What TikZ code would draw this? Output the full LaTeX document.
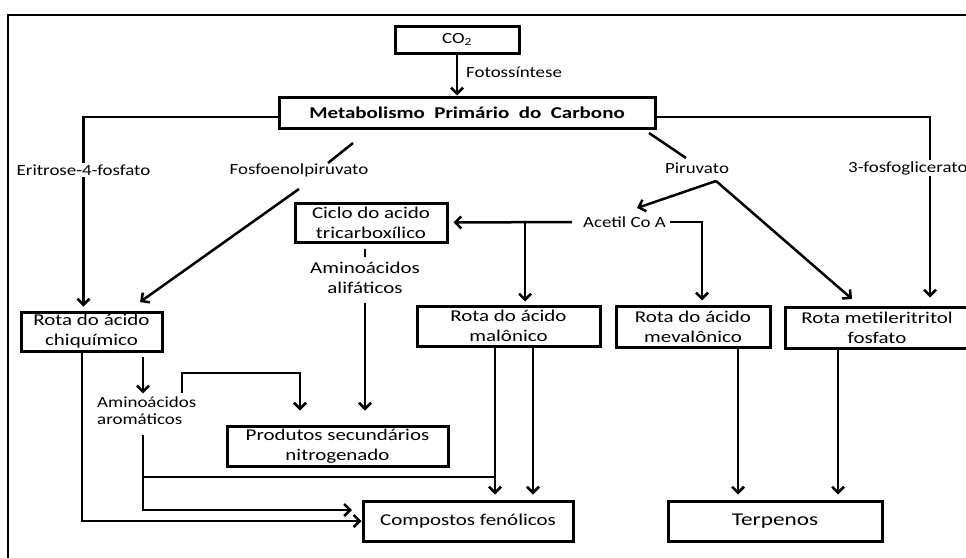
\documentclass[tikz,border=0pt]{standalone}
\usepackage{fontspec}
\setmainfont{Carlito}
\newfontfamily\smallf{Carlito}[FakeStretch=1.22]
\newfontfamily\bigf{Carlito}[FakeStretch=1.27]
\newfontfamily\terpf{Carlito}[FakeStretch=1.29]
\newcommand\lblfont{\smallf\fontsize{15.5}{17}\selectfont}
\newcommand\boxfont{\bigf\fontsize{16.5}{20}\selectfont}
\newcommand\terpfont{\terpf\fontsize{18}{20}\selectfont}
\usetikzlibrary{arrows.meta}
\begin{document}
\begin{tikzpicture}[x=1pt,y=-1pt,
  box/.style={draw, line width=3pt, inner sep=0pt, align=center, font=\boxfont},
  lab/.style={inner sep=1pt, align=center, font=\lblfont},
  con/.style={line width=2.5pt},
  arr/.style={line width=2.5pt, -{Straight Barb[length=6pt,width=12pt]}},
]
\useasboundingbox (0,0) rectangle (966,557);
\clip (0,0) rectangle (966,557);
\fill[white] (0,0) rectangle (966,557);
% frame
\draw[line width=2.8pt] (8,570) -- (8,15) -- (980,15);

% nodes
\node[box, minimum width=124pt, minimum height=27pt, font=\lblfont] (co2) at (457,39.5) {CO\textsubscript{2}};
\node[lab, anchor=west] (fot) at (465,72) {Fotossíntese};
\node[box, minimum width=376pt, minimum height=31pt, font=\bigf\fontsize{16.5}{20}\selectfont\bfseries] (met) at (467,112.5) {Metabolismo\ \ Primário\ \ do\ \ Carbono};
\node[lab] (eri) at (83.5,170) {Eritrose-4-fosfato};
\node[lab] (fos) at (299,170) {Fosfoenolpiruvato};
\node[lab] (pir) at (697,168) {Piruvato};
\node[lab, anchor=west] (tres) at (847,168) {3-fosfoglicerato};
\node[lab] (ace) at (624.5,222) {Acetil Co A};
\node[box, minimum width=152pt, minimum height=39pt] (cic) at (371,222.5) {Ciclo do acido\\tricarboxílico};
\node[lab, font=\boxfont] (ali) at (365,277.5) {Aminoácidos\\alifáticos};
\node[box, minimum width=141pt, minimum height=39pt] (chi) at (91.5,331.5) {Rota do ácido\\chiquímico};
\node[box, minimum width=183pt, minimum height=40pt] (mal) at (508.5,326) {Rota do ácido\\malônico};
\node[box, minimum width=154pt, minimum height=41pt] (mev) at (693,326.5) {Rota do ácido\\mevalônico};
\node[box, minimum width=184pt, minimum height=41pt] (mtl) at (877,327.5) {Rota metileritritol\\fosfato};
\node[lab, align=left, anchor=west] (aro) at (96,410.5) {Aminoácidos\\aromáticos};
\node[box, minimum width=221pt, minimum height=40pt] (pro) at (337.5,446) {Produtos secundários\\nitrogenado};
\node[box, minimum width=210pt, minimum height=40pt] (com) at (468,521) {Compostos fenólicos};
\node[box, minimum width=214pt, minimum height=40pt, font=\terpfont] (ter) at (775,521) {Terpenos};

% helper coordinates
\coordinate (xg) at (930,0);
\coordinate (f1) at (353,143);
\coordinate (f2) at (328,163);
\coordinate (f3) at (299,189);
\coordinate (f4) at (140,302);
\coordinate (p1) at (649,133);
\coordinate (p2) at (686,158);
\coordinate (pk) at (716,181);
\coordinate (pa) at (637,208);
\coordinate (pm) at (852,299);
\coordinate (xb) at (525,0);
\coordinate (xv) at (702,0);
\coordinate (xc) at (365,0);
\coordinate (xl) at (82,0);
\coordinate (xr) at (143,0);
\coordinate (br1) at (182,393);
\coordinate (br2) at (182,373);
\coordinate (br3) at (300,373);
\coordinate (ar1) at (143,435);
\coordinate (ar2) at (143,510);
\coordinate (ar3) at (352,510);
\coordinate (aj) at (143,477);
\coordinate (xm1) at (495,0);
\coordinate (xm2) at (533,0);
\coordinate (xt1) at (738,0);
\coordinate (xt2) at (838,0);

% connectors
\draw[arr, shorten >=0pt] (co2.south) -- (met.north -| co2.south);
\draw[con] ([yshift=-4.5pt]met.west) -| (eri.north);
\draw[arr, shorten >=4pt] (eri.south) -- (chi.north -| eri.south);
\draw[con] ([yshift=-4.5pt]met.east) -| (xg |- tres.north);
\draw[arr, shorten >=8pt] (xg |- tres.south) -- (xg |- mtl.north);
\draw[con] (f1) -- (f2);
\draw[arr] (f3) -- (f4);
\draw[con] (p1) -- (p2);
\draw[arr] (pk) -- (pa);
\draw[arr] (pk) -- (pm);
\draw[arr, shorten >=5pt] ([xshift=-10pt]ace.west) -- (cic.east);
\draw[arr, shorten >=3pt] (ace.west -| xb) -- (mal.north -| xb);
\draw[arr, shorten >=4pt] ([xshift=3pt]ace.east) -- (ace.east -| xv) -- (mev.north -| xv);
\draw[con] ([yshift=-5pt]cic.south -| xc) -- ([yshift=4pt]ali.north -| xc);
\draw[arr, shorten >=14pt] ([yshift=-9pt]ali.south -| xc) -- (pro.north -| xc);
\draw[arr] (chi.south -| xl) |- (com.west);
\draw[arr, shorten >=2pt] ([yshift=-4pt]chi.south -| xr) -- (aro.north -| xr);
\draw[arr, shorten >=14pt] (br1) -- (br2) -- (br3) -- (pro.north -| br3);
\draw[arr] (ar1) -- (ar2) -- (ar3);
\draw[con] (aj) -- (aj -| xm1);
\draw[arr, shorten >=5pt] (mal.south -| xm1) -- (com.north -| xm1);
\draw[arr, shorten >=5pt] (mal.south -| xm2) -- (com.north -| xm2);
\draw[arr, shorten >=5pt] (mev.south -| xt1) -- (ter.north -| xt1);
\draw[arr, shorten >=5pt] (mtl.south -| xt2) -- (ter.north -| xt2);
\end{tikzpicture}
\end{document}
